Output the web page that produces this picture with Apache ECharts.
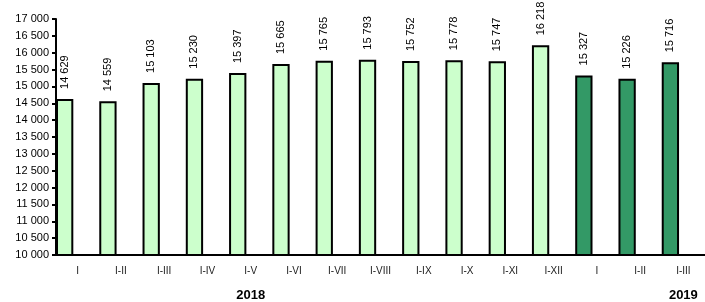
<!DOCTYPE html>
<html lang="pl">
<head>
    <meta charset="UTF-8">
    <title>Wykres</title>
    <script src="https://cdn.jsdelivr.net/npm/echarts@6/dist/echarts.min.js"></script>
    <style>
        html, body { margin: 0; padding: 0; background: #fff; }
        #chart { width: 705px; height: 302px; }
    </style>
</head>
<body>
<div id="chart"></div>
<script type="text/javascript">
	// dane
	var months = ['I', 'I-II', 'I-III', 'I-IV', 'I-V', 'I-VI', 'I-VII', 'I-VIII', 'I-IX', 'I-X', 'I-XI', 'I-XII', 'I', 'I-II', 'I-III'];
	var values = [14629, 14559, 15103, 15230, 15397, 15665, 15765, 15793, 15752, 15778, 15747, 16218, 15327, 15226, 15716];
	var years = ['', '', '', '', '2018', '', '', '', '', '', '', '', '', '', '2019'];
	var yearOf = [2018, 2018, 2018, 2018, 2018, 2018, 2018, 2018, 2018, 2018, 2018, 2018, 2019, 2019, 2019];
	var yTicks = [10000, 17000, 500];

	var colors = { 2018: '#ccffcc', 2019: '#339966' };
	var font = 'Liberation Sans, Arial, sans-serif';

	function fmt(v) {
		return String(v).replace(/\B(?=(\d{3})+(?!\d))/g, ' ');
	}

	var barData = [];
	for (var i = 0; i < values.length; i++) {
		barData.push({
			value: values[i],
			itemStyle: { color: colors[yearOf[i]] }
		});
	}

	var chart = echarts.init(document.getElementById('chart'));
	var option = {
		animation: false,
		grid: { left: 56, right: 0, top: 19, bottom: 47 },
		xAxis: [
			{
				type: 'category',
				data: months,
				axisLine: { lineStyle: { color: '#000', width: 2 } },
				axisTick: { length: 5, lineStyle: { color: '#000', width: 2 } },
				axisLabel: { color: '#222', fontSize: 10, fontFamily: font, margin: 11 }
			},
			{
				type: 'category',
				data: years,
				position: 'bottom',
				offset: 26,
				axisLine: { show: false },
				axisTick: { show: false },
				axisLabel: { color: '#000', fontSize: 13, fontWeight: 'bold', fontFamily: font, interval: 0 }
			}
		],
		yAxis: {
			type: 'value',
			min: yTicks[0],
			max: yTicks[1],
			interval: yTicks[2],
			splitLine: { show: false },
			axisLine: { show: true, lineStyle: { color: '#000', width: 2 } },
			axisTick: { show: true, length: 4, lineStyle: { color: '#000', width: 2 } },
			axisLabel: { color: '#000', fontSize: 11, fontFamily: font, margin: 7, formatter: fmt }
		},
		series: [
			{
				type: 'bar',
				data: barData,
				barWidth: '40%',
				barGap: '0%',
				barCategoryGap: '0%',
				itemStyle: { borderColor: '#000', borderWidth: 2 },
				label: {
					show: true,
					position: 'top',
					rotate: 90,
					align: 'left',
					verticalAlign: 'middle',
					distance: 10,
					color: '#000',
					fontSize: 11,
					fontFamily: font,
					formatter: function (p) { return fmt(p.value); }
				}
			},
			{
				// pusta seria, zeby slupki byly przy lewej krawedzi kategorii
				type: 'bar',
				data: [],
				barWidth: '60%',
				silent: true
			}
		]
	};
	chart.setOption(option);
</script>
</body>
</html>
